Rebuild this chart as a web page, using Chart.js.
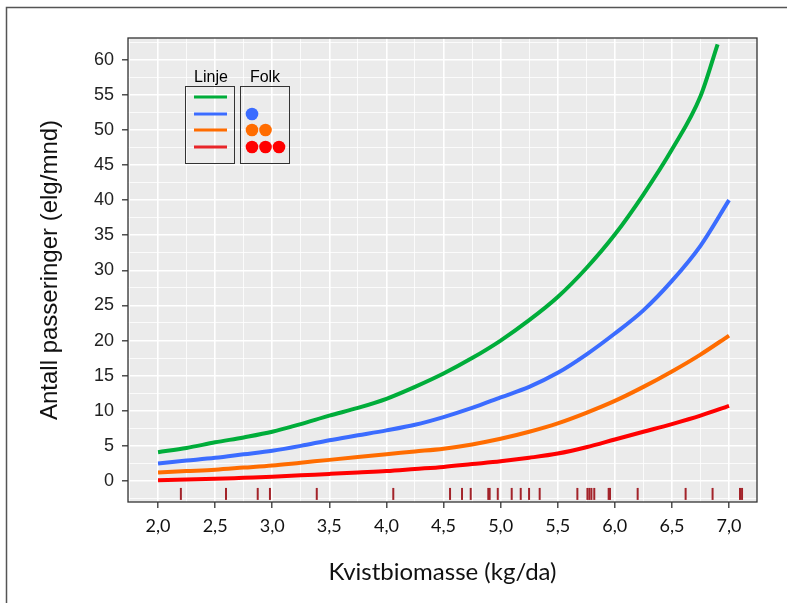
<!DOCTYPE html>
<html>
<head>
<meta charset="utf-8">
<script src="https://cdn.jsdelivr.net/npm/chart.js@4.4.1/dist/chart.umd.min.js"></script>
<style>
  html, body { margin: 0; padding: 0; background: #fff; }
  canvas { display: block; }
</style>
</head>
<body>
<canvas id="chart" width="787" height="603"></canvas>
<script>
// Kvistbiomasse (kg/da) along x
const xValues = [2.0, 2.25, 2.5, 2.75, 3.0, 3.25, 3.5, 3.75, 4.0, 4.25, 4.5, 4.75, 5.0, 5.25, 5.5, 5.75, 6.0, 6.25, 6.5, 6.75, 7.0];
const greenX = [2.0, 2.25, 2.5, 2.75, 3.0, 3.25, 3.5, 3.75, 4.0, 4.25, 4.5, 4.75, 5.0, 5.25, 5.5, 5.75, 6.0, 6.25, 6.5, 6.75, 6.9];

// Antall passeringer (elg/mnd)
const greenLine  = [4.1, 4.7, 5.5, 6.2, 7.0, 8.1, 9.3, 10.4, 11.7, 13.4, 15.3, 17.5, 20.0, 22.9, 26.2, 30.3, 35.1, 40.8, 47.2, 54.8, 62.2];
const blueLine   = [2.5, 2.9, 3.3, 3.8, 4.3, 5.0, 5.8, 6.5, 7.2, 8.0, 9.1, 10.4, 11.9, 13.4, 15.4, 18.0, 21.0, 24.3, 28.5, 33.5, 40.0];
const orangeLine = [1.2, 1.4, 1.6, 1.9, 2.2, 2.6, 3.0, 3.4, 3.8, 4.2, 4.6, 5.2, 6.0, 7.0, 8.2, 9.7, 11.4, 13.4, 15.6, 18.0, 20.7];
const redLine    = [0.1, 0.2, 0.3, 0.45, 0.6, 0.8, 1.0, 1.2, 1.4, 1.7, 2.0, 2.4, 2.8, 3.3, 3.9, 4.8, 5.9, 7.0, 8.1, 9.3, 10.7];

// observed kvistbiomasse (rug along the bottom)
const rugX = [2.20, 2.595, 2.873, 2.98, 3.39, 4.06, 4.557, 4.662, 4.738, 4.892, 4.904, 4.975, 5.097, 5.176, 5.249, 5.342,
  5.672, 5.76, 5.777, 5.795, 5.82, 5.946, 5.958, 6.20, 6.62, 6.856, 7.096, 7.114];
const rugLevel = -1.85;

const xTicks = [2.0, 2.5, 3.0, 3.5, 4.0, 4.5, 5.0, 5.5, 6.0, 6.5, 7.0];
const yTicks = [0, 5, 10, 15, 20, 25, 30, 35, 40, 45, 50, 55, 60];

const GREEN = '#00AD3A', BLUE = '#3B6CFF', ORANGE = '#FF6C00', RED = '#FF0000';

const toPoints = (xs, ys) => xs.map((x, i) => ({ x: x, y: ys[i] }));

function lineSet(label, xs, ys, color) {
  return {
    label: label,
    data: toPoints(xs, ys),
    borderColor: color,
    borderWidth: 4,
    pointRadius: 0,
    cubicInterpolationMode: 'monotone',
    fill: false
  };
}

const isMajor = (v, step) => Math.abs(v / step - Math.round(v / step)) < 1e-6;

const frame = {
  id: 'frame',
  beforeDraw(chart) {
    const { ctx, chartArea: a } = chart;
    ctx.save();
    ctx.fillStyle = '#fff';
    ctx.fillRect(0, 0, chart.width, chart.height);
    ctx.strokeStyle = '#555';
    ctx.lineWidth = 1.5;
    ctx.beginPath();
    ctx.moveTo(6.5, chart.height);
    ctx.lineTo(6.5, 7.5);
    ctx.lineTo(chart.width, 7.5);
    ctx.stroke();
    ctx.fillStyle = '#EBEBEB';
    ctx.fillRect(a.left, a.top, a.right - a.left, a.bottom - a.top);
    ctx.restore();
  },
  afterDraw(chart) {
    const { ctx, chartArea: a } = chart;
    ctx.save();
    ctx.strokeStyle = '#333';
    ctx.lineWidth = 1.3;
    ctx.strokeRect(a.left, a.top, a.right - a.left, a.bottom - a.top);

    // legend: Linje / Folk
    ctx.fillStyle = '#000';
    ctx.font = '16px "Liberation Sans", Arial, sans-serif';
    ctx.textAlign = 'center';
    ctx.textBaseline = 'alphabetic';
    ctx.fillText('Linje', 211, 82);
    ctx.fillText('Folk', 265, 82);
    ctx.strokeStyle = '#333';
    ctx.lineWidth = 1;
    ctx.strokeRect(185.5, 86.5, 49, 77);
    ctx.strokeRect(240.5, 86.5, 49, 77);
    const rows = [97, 114, 130, 147];
    const lineColors = [GREEN, BLUE, ORANGE, '#E8262A'];
    ctx.lineWidth = 3;
    rows.forEach((y, i) => {
      ctx.strokeStyle = lineColors[i];
      ctx.beginPath();
      ctx.moveTo(194, y);
      ctx.lineTo(227, y);
      ctx.stroke();
    });
    const dotColors = [BLUE, ORANGE, RED];
    dotColors.forEach((c, i) => {
      ctx.fillStyle = c;
      for (let k = 0; k <= i; k++) {
        ctx.beginPath();
        ctx.arc(252 + k * 13.5, rows[i + 1], 6.3, 0, Math.PI * 2);
        ctx.fill();
      }
    });
    ctx.restore();
  }
};

new Chart(document.getElementById('chart'), {
  type: 'line',
  data: {
    datasets: [
      lineSet('Linje 1', greenX, greenLine, GREEN),
      lineSet('Linje 2', xValues, blueLine, BLUE),
      lineSet('Linje 3', xValues, orangeLine, ORANGE),
      lineSet('Linje 4', xValues, redLine, RED),
      {
        type: 'scatter',
        label: 'Observasjoner',
        data: rugX.map((x) => ({ x: x, y: rugLevel })),
        pointStyle: 'line',
        rotation: 90,
        radius: 6,
        borderColor: '#A3232A',
        borderWidth: 2,
        showLine: false
      }
    ]
  },
  options: {
    responsive: false,
    devicePixelRatio: 1,
    animation: false,
    layout: { padding: { left: 36, top: 38, right: 30, bottom: 0 } },
    plugins: {
      legend: { display: false },
      tooltip: { enabled: false }
    },
    scales: {
      x: {
        type: 'linear',
        min: 1.737,
        max: 7.245,
        afterFit: (s) => { s.height = 101; },
        afterBuildTicks: (s) => {
          const t = [];
          for (let v = 1.75; v <= 7.25; v += 0.25) t.push({ value: Math.round(v * 100) / 100 });
          s.ticks = t;
        },
        ticks: {
          autoSkip: false,
          maxRotation: 0,
          padding: 7,
          color: '#111',
          font: { family: 'Lato, "Liberation Sans Narrow", sans-serif', size: 18 },
          callback: (v) => (xTicks.some((t) => Math.abs(t - v) < 1e-6) ? v.toFixed(1).replace('.', ',') : '')
        },
        grid: {
          color: '#fff',
          lineWidth: (c) => (isMajor(c.tick.value, 0.5) ? 1.6 : 0.8),
          tickColor: (c) => (xTicks.some((t) => Math.abs(t - c.tick.value) < 1e-6) ? '#333' : 'rgba(0,0,0,0)'),
          tickLength: 6,
          tickWidth: 1.3
        },
        border: { display: false },
        title: {
          display: true,
          text: 'Kvistbiomasse (kg/da)',
          color: '#111',
          font: { family: 'Lato, "Open Sans", sans-serif', size: 24 },
          padding: { top: 0, bottom: 16 }
        }
      },
      y: {
        type: 'linear',
        min: -3,
        max: 63.1,
        afterFit: (s) => { s.width = 92; },
        afterBuildTicks: (s) => {
          const t = [];
          for (let v = -2.5; v <= 62.5; v += 2.5) t.push({ value: v });
          s.ticks = t;
        },
        ticks: {
          autoSkip: false,
          padding: 8,
          color: '#222',
          font: { family: '"Liberation Sans", Arial, sans-serif', size: 18 },
          callback: (v) => (yTicks.includes(v) ? String(v) : '')
        },
        grid: {
          color: '#fff',
          lineWidth: (c) => (isMajor(c.tick.value, 5) ? 1.6 : 0.8),
          tickColor: (c) => (yTicks.includes(c.tick.value) ? '#333' : 'rgba(0,0,0,0)'),
          tickLength: 6,
          tickWidth: 1.3
        },
        border: { display: false },
        title: {
          display: true,
          text: 'Antall passeringer (elg/mnd)',
          color: '#111',
          font: { family: '"Liberation Sans", Arial, sans-serif', size: 24 },
          padding: { top: 0, bottom: 10 }
        }
      }
    }
  },
  plugins: [frame]
});
</script>
</body>
</html>
